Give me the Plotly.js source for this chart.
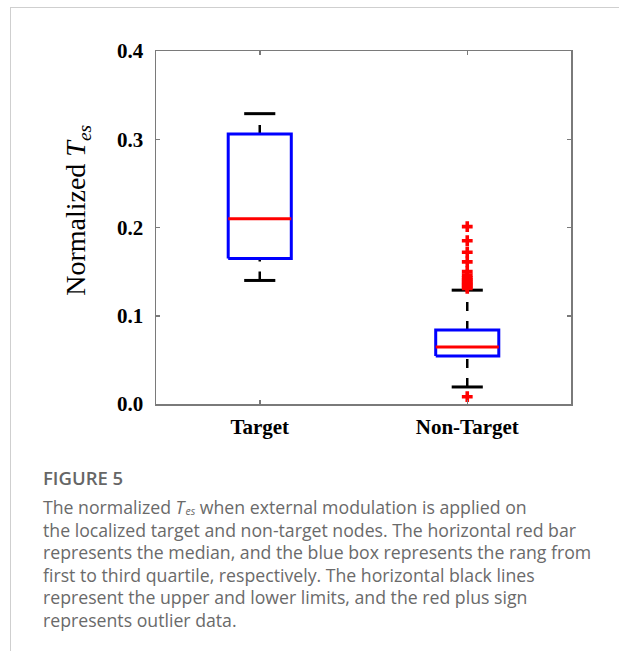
<!DOCTYPE html>
<html>
<head>
<meta charset="utf-8">
<script src="https://cdn.plot.ly/plotly-3.0.1.min.js"></script>
<style>
  html, body { margin: 0; padding: 0; background: #ffffff; }
  #wrap { position: relative; width: 619px; height: 651px; overflow: hidden; background: #fff; }
  #frame { position: absolute; left: 10px; top: 7px; width: 640px; height: 700px;
           border-top: 1px solid #cfcfcf; border-left: 1px solid #cfcfcf; }
  #chart { position: absolute; left: 0; top: 0; width: 619px; height: 651px; }
  #caption { position: absolute; left: 43px; top: 467px; color: #6a6a6a;
             font-family: "Open Sans", sans-serif; font-size: 17.7px; white-space: nowrap; }
  #caption .fig { font-weight: 600; font-size: 18.5px; line-height: 22px; color: #666; }
  #caption .body { line-height: 22.5px; font-weight: 400; margin-top: 7px; }
  #caption .sub { font-size: 10.5px; position: relative; top: 1px; line-height: 1; display: inline-block; margin-left: 1px; }
</style>
</head>
<body>
<div id="wrap">
  <div id="frame"></div>
  <div id="chart"></div>
  <div id="caption">
    <div class="fig">FIGURE 5</div>
    <div class="body">The normalized <i>T</i><span class="sub"><i>es</i></span> when external modulation is applied on<br>the localized target and non-target nodes. The horizontal red bar<br>represents the median, and the blue box represents the rang from<br>first to third quartile, respectively. The horizontal black lines<br>represent the upper and lower limits, and the red plus sign<br>represents outlier data.</div>
  </div>
</div>
<script>
// ---- data ----
const categories = ['Target', 'Non-Target'];
const q1Values = [0.165, 0.0544];
const medianValues = [0.210, 0.0646];
const q3Values = [0.306, 0.0839];
const lowerLimits = [0.140, 0.0193];
const upperLimits = [0.329, 0.129];
const outlierGroup = ['Non-Target','Non-Target','Non-Target','Non-Target','Non-Target','Non-Target','Non-Target',
                      'Non-Target','Non-Target','Non-Target','Non-Target','Non-Target','Non-Target','Non-Target'];
const outlierValues = [0.0083, 0.131, 0.133, 0.135, 0.137, 0.139, 0.141, 0.143, 0.146, 0.150, 0.161, 0.172, 0.185, 0.201];
const yTicks = [0, 0.1, 0.2, 0.3, 0.4];
const yTitle = 'Normalized <i>T</i><sub><i>es</i></sub>';

// ---- build traces ----
const boxHalf = 0.152, capHalf = 0.075;
const traces = [];
categories.forEach((c, i) => {
  const p = i + 1;
  traces.push({x: [p, p], y: [q3Values[i], upperLimits[i]], mode: 'lines',
    line: {color: '#000', width: 2.5, dash: '9px,10px'}, hoverinfo: 'skip', showlegend: false});
  traces.push({x: [p, p], y: [lowerLimits[i], q1Values[i]], mode: 'lines',
    line: {color: '#000', width: 2.5, dash: '9px,10px'}, hoverinfo: 'skip', showlegend: false});
  traces.push({x: [p - boxHalf, p + boxHalf, p + boxHalf, p - boxHalf, p - boxHalf],
    y: [q1Values[i], q1Values[i], q3Values[i], q3Values[i], q1Values[i]], mode: 'lines',
    line: {color: '#0000ff', width: 3}, showlegend: false, name: c});
  traces.push({x: [p - boxHalf, p + boxHalf], y: [medianValues[i], medianValues[i]], mode: 'lines',
    line: {color: '#ff0000', width: 3}, showlegend: false, name: c + ' median'});
  traces.push({x: [p - capHalf, p + capHalf], y: [upperLimits[i], upperLimits[i]], mode: 'lines',
    line: {color: '#000', width: 3}, showlegend: false, hoverinfo: 'skip'});
  traces.push({x: [p - capHalf, p + capHalf], y: [lowerLimits[i], lowerLimits[i]], mode: 'lines',
    line: {color: '#000', width: 3}, showlegend: false, hoverinfo: 'skip'});
});
traces.push({
  x: outlierGroup.map(g => categories.indexOf(g) + 1), y: outlierValues, mode: 'markers',
  marker: {symbol: 'cross', size: 9, color: '#ff0000', line: {width: 0}}, showlegend: false, name: 'outliers'
});

const axisCommon = {
  showline: true, linecolor: '#7a7a7a', linewidth: 1.5, mirror: 'ticks',
  ticks: 'inside', ticklen: 4, tickwidth: 1.5, tickcolor: '#7a7a7a',
  showgrid: false, zeroline: false, fixedrange: true
};
const serif = 'Liberation Serif, Times New Roman, serif';

const layout = {
  width: 619, height: 651,
  margin: {l: 156, r: 48, t: 51, b: 247, pad: 0},
  paper_bgcolor: 'rgba(0,0,0,0)', plot_bgcolor: '#ffffff',
  showlegend: false,
  xaxis: Object.assign({}, axisCommon, {
    range: [0.5, 2.5], tickmode: 'array', tickvals: categories.map((c, i) => i + 1),
    ticktext: categories.map(c => '<b>' + c + '</b>'),
    tickfont: {family: serif, size: 21, color: '#000'},
    ticklabelstandoff: 3
  }),
  yaxis: Object.assign({}, axisCommon, {
    range: [0, 0.4], tickmode: 'array', tickvals: yTicks, ticktext: yTicks.map(v => '<b>' + v.toFixed(1) + '</b>'),
    tickfont: {family: serif, size: 21, color: '#000'},
    ticklabelstandoff: 7
  }),
  annotations: [{
    text: yTitle, xref: 'paper', yref: 'paper', x: -0.188, y: 0.55,
    xanchor: 'center', yanchor: 'middle', textangle: -90, showarrow: false,
    font: {family: serif, size: 28, color: '#000'}
  }]
};

Plotly.newPlot('chart', traces, layout, {displayModeBar: false, staticPlot: true});
</script>
</body>
</html>
